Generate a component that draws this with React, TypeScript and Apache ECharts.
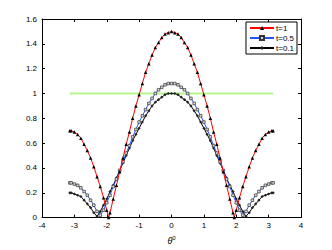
import React, { useEffect, useRef } from "react";
import * as echarts from "echarts";

const theta = [-3.14, -3.1, -3.0, -2.9, -2.8, -2.7, -2.6, -2.5, -2.4, -2.3, -2.2, -2.1, -2.0, -1.9, -1.8, -1.7, -1.6, -1.5, -1.4, -1.3, -1.2, -1.1, -1.0, -0.9, -0.8, -0.7, -0.6, -0.5, -0.4, -0.3, -0.2, -0.1, 0, 0.1, 0.2, 0.3, 0.4, 0.5, 0.6, 0.7, 0.8, 0.9, 1.0, 1.1, 1.2, 1.3, 1.4, 1.5, 1.6, 1.7, 1.8, 1.9, 2.0, 2.1, 2.2, 2.3, 2.4, 2.5, 2.6, 2.7, 2.8, 2.9, 3.0, 3.1, 3.14];

const thetaT1 = [-3.14, -3.1, -3.0, -2.9, -2.8, -2.7, -2.6, -2.5, -2.4, -2.3, -2.2, -2.1, -2.0, -1.94, -1.9, -1.8, -1.7, -1.6, -1.5, -1.4, -1.3, -1.2, -1.1, -1.0, -0.9, -0.8, -0.7, -0.6, -0.5, -0.4, -0.3, -0.2, -0.1, 0, 0.1, 0.2, 0.3, 0.4, 0.5, 0.6, 0.7, 0.8, 0.9, 1.0, 1.1, 1.2, 1.3, 1.4, 1.5, 1.6, 1.7, 1.8, 1.9, 1.94, 2.0, 2.1, 2.2, 2.3, 2.4, 2.5, 2.6, 2.7, 2.8, 2.9, 3.0, 3.1, 3.14];

const t1 = [0.70, 0.70, 0.69, 0.67, 0.64, 0.59, 0.54, 0.48, 0.41, 0.33, 0.25, 0.16, 0.06, 0.0, 0.04, 0.15, 0.26, 0.37, 0.48, 0.59, 0.69, 0.80, 0.90, 0.99, 1.08, 1.17, 1.24, 1.31, 1.37, 1.41, 1.45, 1.48, 1.49, 1.50, 1.49, 1.48, 1.45, 1.41, 1.37, 1.31, 1.24, 1.17, 1.08, 0.99, 0.90, 0.80, 0.69, 0.59, 0.48, 0.37, 0.26, 0.15, 0.04, 0.0, 0.06, 0.16, 0.25, 0.33, 0.41, 0.48, 0.54, 0.59, 0.64, 0.67, 0.69, 0.70, 0.70];

const t05 = [0.28, 0.28, 0.27, 0.26, 0.24, 0.21, 0.18, 0.14, 0.10, 0.05, 0.02, 0.06, 0.12, 0.18, 0.25, 0.31, 0.38, 0.45, 0.52, 0.58, 0.65, 0.71, 0.77, 0.82, 0.87, 0.92, 0.96, 1.00, 1.03, 1.05, 1.07, 1.08, 1.08, 1.08, 1.07, 1.05, 1.03, 1.00, 0.96, 0.92, 0.87, 0.82, 0.77, 0.71, 0.65, 0.58, 0.52, 0.45, 0.38, 0.31, 0.25, 0.18, 0.12, 0.06, 0.02, 0.05, 0.10, 0.14, 0.18, 0.21, 0.24, 0.26, 0.27, 0.28, 0.28];

const t01 = [0.20, 0.20, 0.19, 0.18, 0.17, 0.14, 0.11, 0.08, 0.04, 0.01, 0.05, 0.10, 0.15, 0.21, 0.26, 0.32, 0.38, 0.44, 0.50, 0.56, 0.62, 0.67, 0.72, 0.77, 0.82, 0.86, 0.90, 0.93, 0.95, 0.97, 0.99, 1.00, 1.00, 1.00, 0.99, 0.97, 0.95, 0.93, 0.90, 0.86, 0.82, 0.77, 0.72, 0.67, 0.62, 0.56, 0.50, 0.44, 0.38, 0.32, 0.26, 0.21, 0.15, 0.10, 0.05, 0.01, 0.04, 0.08, 0.11, 0.14, 0.17, 0.18, 0.19, 0.20, 0.20];

const refX = [-3.14, 3.14];
const refY = [1, 1];

const legendNames = ["t=1", "t=0.5", "t=0.1"];

const FONT = "Liberation Sans, Arial, sans-serif";

const pair = (xs: number[], ys: number[]) => xs.map((x, i) => [x, ys[i]]);

export default function App() {
  const ref = useRef<HTMLDivElement>(null);
  useEffect(() => {
    if (!ref.current) return;
    const chart = echarts.init(ref.current, null, { renderer: "svg" });
    const axisCommon = {
      axisLine: { show: true, onZero: false, lineStyle: { color: "#000", width: 1 } },
      axisTick: { show: true, inside: true, length: 3, lineStyle: { color: "#000" } },
      splitLine: { show: false },
    };
    chart.setOption({
      animation: false,
      backgroundColor: "#fff",
      grid: { left: 42, right: 31, top: 19, bottom: 29, containLabel: false },
      legend: {
        data: legendNames,
        orient: "vertical",
        right: 35,
        top: 22,
        itemWidth: 24,
        itemHeight: 5,
        itemGap: 2,
        padding: [2, 3, 2, 3],
        backgroundColor: "#fff",
        borderColor: "#000",
        borderWidth: 1,
        borderRadius: 0,
        textStyle: { fontFamily: FONT, fontSize: 8, color: "#000", padding: [0, 0, 0, -3] },
      },
      xAxis: [
        {
          type: "value",
          min: -4,
          max: 4,
          interval: 1,
          ...axisCommon,
          axisLabel: { fontFamily: FONT, fontSize: 8, color: "#000", margin: 4 },
          name: "{t|θ}{s|0}",
          nameLocation: "middle",
          nameGap: 12,
          nameTextStyle: {
            rich: {
              t: { fontFamily: FONT, fontSize: 9, color: "#000", fontStyle: "italic" },
              s: { fontFamily: FONT, fontSize: 6, color: "#000", verticalAlign: "top", padding: [0, 0, 6, 0] },
            },
          },
        },
        {
          type: "value",
          position: "top",
          min: -4,
          max: 4,
          interval: 1,
          ...axisCommon,
          axisLabel: { show: false },
        },
      ],
      yAxis: [
        {
          type: "value",
          min: 0,
          max: 1.6,
          interval: 0.2,
          ...axisCommon,
          axisLabel: {
            fontFamily: FONT,
            fontSize: 8,
            color: "#000",
            margin: 5,
            formatter: (v: number) => String(Math.round(v * 10) / 10),
          },
        },
        {
          type: "value",
          position: "right",
          min: 0,
          max: 1.6,
          interval: 0.2,
          ...axisCommon,
          axisLabel: { show: false },
        },
      ],
      series: [
        {
          name: "ref",
          type: "line",
          data: pair(refX, refY),
          showSymbol: false,
          symbol: "none",
          lineStyle: { color: "#b6f58c", width: 2 },
          z: 1,
        },
        {
          name: "t=1",
          type: "line",
          data: pair(thetaT1, t1),
          symbol: "triangle",
          symbolSize: 3.5,
          color: "#ff0000",
          itemStyle: { color: "#000" },
          lineStyle: { color: "#ff0000", width: 1 },
          z: 4,
        },
        {
          name: "t=0.5",
          type: "line",
          data: pair(theta, t05),
          symbol: "rect",
          symbolSize: 2.6,
          color: "#2255ff",
          itemStyle: { color: "#ddd", borderColor: "#333", borderWidth: 0.7 },
          lineStyle: { color: "#2255ff", width: 1 },
          z: 3,
        },
        {
          name: "t=0.1",
          type: "line",
          data: pair(theta, t01),
          symbol: "diamond",
          symbolSize: 3.2,
          color: "#000",
          itemStyle: { color: "#222" },
          lineStyle: { color: "#000", width: 1 },
          z: 2,
        },
      ],
    });
    return () => chart.dispose();
  }, []);
  return (
    <div
      ref={ref}
      style={{ position: "fixed", left: 0, top: 0, width: 332, height: 250 }}
    />
  );
}
